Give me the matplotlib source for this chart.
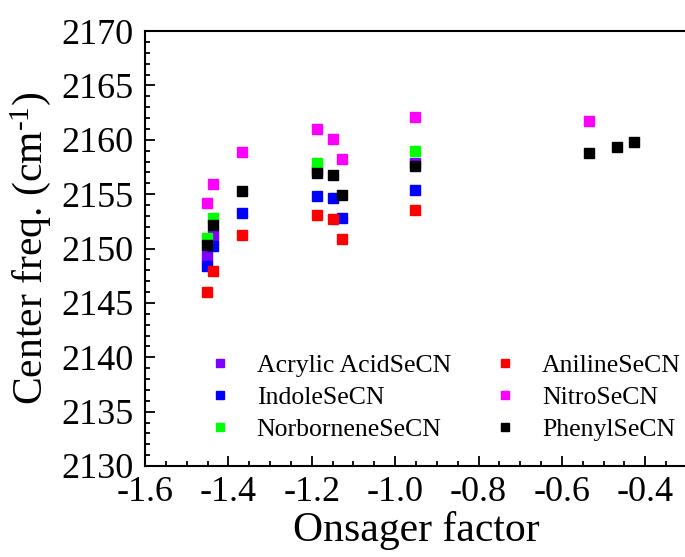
import matplotlib
matplotlib.use("Agg")
import matplotlib.pyplot as plt
from matplotlib.ticker import MultipleLocator

plt.rcParams["font.family"] = ["Liberation Serif", "DejaVu Serif"]
plt.rcParams["mathtext.fontset"] = "custom"
plt.rcParams["mathtext.rm"] = "Liberation Serif"
plt.rcParams["mathtext.it"] = "Liberation Serif:italic"

# Onsager factor and center frequency (cm^-1) for each nitrile probe
acrylic_x = [-1.452, -1.436, -1.188, -0.952]
acrylic_y = [2149.3, 2151.2, 2157.2, 2157.9]

aniline_x = [-1.452, -1.436, -1.367, -1.188, -1.148, -1.128, -0.952]
aniline_y = [2146.0, 2147.9, 2151.2, 2153.1, 2152.7, 2150.9, 2153.5]

indole_x = [-1.452, -1.436, -1.367, -1.188, -1.148, -1.128, -0.952]
indole_y = [2148.4, 2150.2, 2153.3, 2154.8, 2154.6, 2152.8, 2155.4]

nitro_x = [-1.452, -1.436, -1.367, -1.188, -1.148, -1.128, -0.952, -0.535]
nitro_y = [2154.2, 2155.9, 2158.9, 2161.0, 2160.1, 2158.2, 2162.1, 2161.7]

norbornene_x = [-1.452, -1.436, -1.188, -0.952]
norbornene_y = [2151.0, 2152.8, 2157.9, 2159.0]

phenyl_x = [-1.452, -1.436, -1.367, -1.188, -1.148, -1.128, -0.952, -0.535, -0.469, -0.426]
phenyl_y = [2150.3, 2152.2, 2155.3, 2156.9, 2156.8, 2154.9, 2157.6, 2158.8, 2159.3, 2159.8]

series = [
    ("Acrylic AcidSeCN", acrylic_x, acrylic_y, "#8000ff"),
    ("IndoleSeCN", indole_x, indole_y, "#0000ff"),
    ("NorborneneSeCN", norbornene_x, norbornene_y, "#00ff00"),
    ("AnilineSeCN", aniline_x, aniline_y, "#ff0000"),
    ("NitroSeCN", nitro_x, nitro_y, "#ff00ff"),
    ("PhenylSeCN", phenyl_x, phenyl_y, "#000000"),
]

fig = plt.figure(figsize=(6.85, 5.57), dpi=100)
W, H = 685, 557
ax = fig.add_axes([145 / W, (H - 466) / H, 542 / W, (466 - 31) / H])

for label, xs, ys, color in series:
    ax.plot(xs, ys, linestyle="none", marker="s", markersize=7.2,
            markerfacecolor=color, markeredgecolor=color, label=label)

ax.set_xlim(-1.6, -0.3)
ax.set_ylim(2130, 2170)
ax.xaxis.set_major_locator(MultipleLocator(0.2))
ax.xaxis.set_minor_locator(MultipleLocator(0.05))
ax.yaxis.set_major_locator(MultipleLocator(5))
ax.yaxis.set_minor_locator(MultipleLocator(1))
ax.xaxis.set_major_formatter(plt.FuncFormatter(lambda v, p: f"{v:.1f}"))

ax.tick_params(which="both", direction="in", top=False, right=False,
               labelsize=26, width=1.3)
ax.tick_params(which="major", length=7)
ax.tick_params(which="minor", length=3.5)
ax.tick_params(axis="y", which="major", pad=8)
ax.tick_params(axis="x", which="major", pad=7)
for s in ax.spines.values():
    s.set_linewidth(1.5)

ax.set_xlabel("Onsager factor", fontsize=30, labelpad=2)
ax.set_ylabel("Center freq. (cm$^{\\text{-1}}$)", fontsize=30, labelpad=6)

ax.legend(loc="upper left", bbox_to_anchor=(207 / W, 1 - 354 / H),
          bbox_transform=fig.transFigure, ncol=2, frameon=False,
          fontsize=18.5, markerscale=0.75, handlelength=1.0,
          handletextpad=0.93, columnspacing=1.62, labelspacing=0.35,
          borderpad=0, borderaxespad=0)

fig.savefig("out.png", dpi=100)
